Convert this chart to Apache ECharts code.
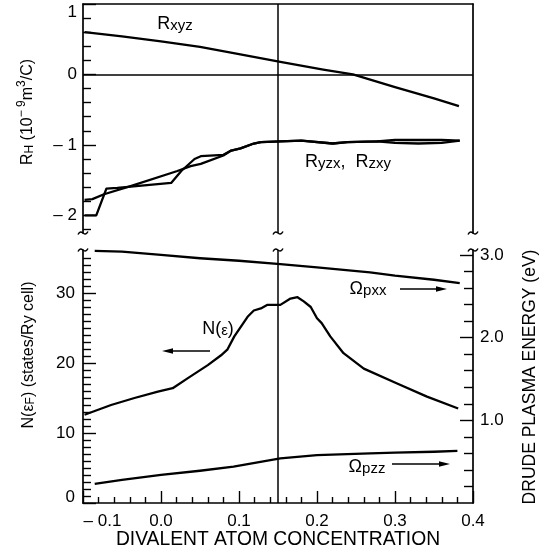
<!DOCTYPE html>
<html><head><meta charset="utf-8">
<script src="https://cdn.jsdelivr.net/npm/echarts@6/dist/echarts.min.js"></script>
<style>html,body{margin:0;padding:0;background:#fff}#c{width:553px;height:556px}</style>
</head><body><div id="c"></div>
<script>
// ---------- data ----------
const xTicks = [-0.1, 0, 0.1, 0.2, 0.3, 0.4];
const rhTicks = [-2, -1, 0, 1];
const rhMinorTicks = [-2.2, -1.8, -1.6, -1.4, -1.2, -0.8, -0.6, -0.4, -0.2, 0.2, 0.4, 0.6, 0.8];
const nTicks = [0, 10, 20, 30];
const nMinorTicks = [1,2,3,4,5,6,7,8,9,11,12,13,14,15,16,17,18,19,21,22,23,24,25,26,27,28,29,31,32,33,34,35];
const eTicks = [1, 2, 3];
const eMinorTicks = [0.2,0.4,0.6,0.8,1.2,1.4,1.6,1.8,2.2,2.4,2.6,2.8];

const rxyzX = [-0.098, -0.05, 0, 0.05, 0.1, 0.153, 0.208, 0.246, 0.3, 0.35, 0.382];
const rxyzY = [0.60, 0.54, 0.47, 0.39, 0.29, 0.18, 0.07, 0.0, -0.18, -0.34, -0.45];

const ryzxX = [-0.098, -0.088, -0.073, -0.038, 0.021, 0.038, 0.051, 0.08, 0.09, 0.102, 0.119, 0.128, 0.153, 0.18, 0.22, 0.239, 0.277, 0.30, 0.33, 0.36, 0.383];
const ryzxY = [-1.78, -1.77, -1.70, -1.58, -1.37, -1.30, -1.27, -1.15, -1.08, -1.05, -0.98, -0.96, -0.95, -0.94, -0.98, -0.96, -0.95, -0.93, -0.93, -0.93, -0.94];

const rzxyX = [-0.098, -0.083, -0.07, -0.056, 0.013, 0.026, 0.043, 0.051, 0.08, 0.09, 0.102, 0.119, 0.128, 0.153, 0.18, 0.22, 0.239, 0.277, 0.30, 0.33, 0.36, 0.383];
const rzxyY = [-2.0, -2.0, -1.62, -1.61, -1.54, -1.37, -1.20, -1.16, -1.14, -1.08, -1.05, -0.98, -0.96, -0.95, -0.94, -0.98, -0.96, -0.95, -0.97, -0.98, -0.97, -0.94];

const nX = [-0.098, -0.064, -0.034, -0.004, 0.015, 0.034, 0.06, 0.077, 0.085, 0.094, 0.111, 0.119, 0.128, 0.136, 0.153, 0.166, 0.175, 0.183, 0.192, 0.2, 0.206, 0.217, 0.234, 0.26, 0.302, 0.341, 0.381];
const nY = [12.6, 14.0, 15.0, 15.9, 16.4, 17.8, 19.7, 21.1, 21.9, 23.8, 26.6, 27.5, 27.8, 28.3, 28.3, 29.2, 29.4, 28.8, 28.0, 26.4, 25.7, 23.8, 21.4, 19.2, 17.1, 15.2, 13.5];

const opxxX = [-0.085, -0.05, 0, 0.05, 0.1, 0.153, 0.2, 0.268, 0.3, 0.35, 0.383];
const opxxY = [3.05, 3.04, 3.0, 2.96, 2.93, 2.89, 2.85, 2.79, 2.75, 2.70, 2.66];

const opzzX = [-0.085, -0.05, 0, 0.05, 0.093, 0.153, 0.2, 0.268, 0.3, 0.35, 0.38];
const opzzY = [0.23, 0.28, 0.34, 0.39, 0.44, 0.54, 0.58, 0.60, 0.61, 0.62, 0.63];

const xMin = -0.1, xMax = 0.4, rhMin = -2.25, rhMax = 1.0, nMin = 0, nMax = 36.14, eMin = 0, eMax = 3.06;
const markX = 0.15;
const breakXs = [-0.1, 0.15, 0.4];

// ---------- style ----------
const FONT = '"Liberation Sans", Arial, Helvetica, sans-serif';
const K = '#000';
const AW = 1.7;
const zip = (a, b) => a.map((v, i) => [v, b[i]]);
const lab = () => ({ fontSize: 17, fontFamily: FONT, color: K });
const hide = () => ({ show: false });
const hiddenLine = () => ({ show: false, onZero: false });
const minorTick = (vals, len) => ({ show: true, inside: true, length: len, customValues: vals, lineStyle: { color: K, width: 1.4 } });

function lineSeries(name, x, y, xi, yi, extra) {
  return Object.assign({
    name, type: 'line', data: zip(x, y), xAxisIndex: xi, yAxisIndex: yi,
    showSymbol: false, symbol: 'none', smooth: false,
    lineStyle: { color: K, width: 2.3, join: 'round' }, silent: true, animation: false
  }, extra || {});
}
const mlStyle = () => ({ symbol: 'none', silent: true, label: { show: false }, lineStyle: { color: K, width: 1.5, type: 'solid' }, animation: false });

const option = {
  backgroundColor: '#fff',
  animation: false,
  grid: [
    { left: 83, right: 80, top: 4, height: 229 },
    { left: 83, right: 80, top: 250, height: 253 }
  ],
  xAxis: [
    { type: 'value', gridIndex: 0, position: 'top', min: xMin, max: xMax,
      axisLine: { show: true, onZero: false, lineStyle: { color: K, width: AW } }, axisTick: hide(), axisLabel: hide(), splitLine: hide() },
    { type: 'value', gridIndex: 1, position: 'bottom', min: xMin, max: xMax, interval: 0.1,
      axisLine: { show: true, onZero: false, lineStyle: { color: K, width: AW } },
      axisTick: { show: true, inside: true, length: 12, lineStyle: { color: K, width: 1.4 } },
      minorTick: { show: true, splitNumber: 5, length: 6, lineStyle: { color: K, width: 1.4 } },
      axisLabel: Object.assign({ margin: 10, showMinLabel: true, showMaxLabel: true,
        formatter: v => Math.abs(v + 0.1) < 1e-9 ? '{m|\u2013 0.1}' : (Math.abs(v) < 1e-9 ? '0.0' : v.toFixed(1)),
        rich: { m: { fontSize: 17, fontFamily: FONT, color: K, padding: [0, 0, 0, 39] } } }, lab()),
      splitLine: hide(), minorSplitLine: hide() }
  ],
  yAxis: [
    { type: 'value', gridIndex: 0, position: 'left', min: rhMin, max: rhMax,
      axisLine: { show: true, onZero: false, lineStyle: { color: K, width: AW } },
      axisTick: { show: true, inside: true, length: 13, customValues: rhTicks, lineStyle: { color: K, width: 1.4 } },
      axisLabel: Object.assign({ margin: 6, customValues: rhTicks,
        formatter: v => v === 1 ? '{d|1}' : (v < 0 ? '\u2013 ' + (-v) : String(v)),
        rich: { d: { fontSize: 17, fontFamily: FONT, color: K, padding: [16, 0, 0, 0] } } }, lab()),
      splitLine: hide() },
    { type: 'value', gridIndex: 0, position: 'left', min: rhMin, max: rhMax,
      axisLine: hiddenLine(), axisTick: minorTick(rhMinorTicks, 8), axisLabel: hide(), splitLine: hide() },
    { type: 'value', gridIndex: 0, position: 'right', min: rhMin, max: rhMax,
      axisLine: { show: true, onZero: false, lineStyle: { color: K, width: AW } }, axisTick: hide(), axisLabel: hide(), splitLine: hide() },
    { type: 'value', gridIndex: 1, position: 'left', min: nMin, max: nMax,
      axisLine: { show: true, onZero: false, lineStyle: { color: K, width: AW } },
      axisTick: { show: true, inside: true, length: 13, customValues: nTicks, lineStyle: { color: K, width: 1.4 } },
      axisLabel: Object.assign({ margin: 8, customValues: nTicks,
        formatter: v => v === 0 ? '{d|0}' : String(v),
        rich: { d: { fontSize: 17, fontFamily: FONT, color: K, padding: [0, 0, 12, 0] } } }, lab()),
      splitLine: hide() },
    { type: 'value', gridIndex: 1, position: 'left', min: nMin, max: nMax,
      axisLine: hiddenLine(), axisTick: minorTick(nMinorTicks, 8), axisLabel: hide(), splitLine: hide() },
    { type: 'value', gridIndex: 1, position: 'right', min: eMin, max: eMax,
      axisLine: { show: true, onZero: false, lineStyle: { color: K, width: AW } },
      axisTick: { show: true, inside: true, length: 13, customValues: eTicks, lineStyle: { color: K, width: 1.4 } },
      axisLabel: Object.assign({ margin: 7, customValues: eTicks, formatter: v => v.toFixed(1) }, lab()),
      splitLine: hide() },
    { type: 'value', gridIndex: 1, position: 'right', min: eMin, max: eMax,
      axisLine: hiddenLine(), axisTick: minorTick(eMinorTicks, 9), axisLabel: hide(), splitLine: hide() }
  ],
  series: [
    lineSeries('Rxyz', rxyzX, rxyzY, 0, 0, { markLine: Object.assign({ data: [{ yAxis: 0 }, { xAxis: markX }] }, mlStyle()) }),
    lineSeries('Ryzx', ryzxX, ryzxY, 0, 0),
    lineSeries('Rzxy', rzxyX, rzxyY, 0, 0),
    lineSeries('N', nX, nY, 1, 3, { markLine: Object.assign({ data: [{ xAxis: markX }] }, mlStyle()) }),
    lineSeries('Opxx', opxxX, opxxY, 1, 5),
    lineSeries('Opzz', opzzX, opzzY, 1, 5)
  ]
};

const chart = echarts.init(document.getElementById('c'), null, { renderer: 'canvas' });
chart.setOption(option);

// ---------- decorations ----------
function breakMark(x, y) {
  return { type: 'bezierCurve', silent: true,
    shape: { x1: x - 5, y1: y + 1.5, cpx1: x - 1, cpy1: y - 6, cpx2: x + 1, cpy2: y + 6, x2: x + 5, y2: y - 1.5 },
    style: { stroke: K, lineWidth: 1.5, fill: null } };
}
function txt(x, y, text, rich, rot) {
  return { type: 'text', x, y, rotation: rot || 0, silent: true,
    style: { text, rich, align: 'center', verticalAlign: 'middle', fontSize: 17, fontFamily: FONT, fill: K } };
}
function arrow(x1, x2, y) {
  const dir = x2 > x1 ? 1 : -1;
  return [
    { type: 'line', silent: true, shape: { x1, y1: y, x2: x2 - dir * 6, y2: y }, style: { stroke: K, lineWidth: 1.5 } },
    { type: 'polygon', silent: true, shape: { points: [[x2, y], [x2 - dir * 11, y - 2.8], [x2 - dir * 11, y + 2.8]] }, style: { fill: K } }
  ];
}
const sub = {
  R: { fontSize: 18, fontFamily: FONT, fill: K, lineHeight: 20, verticalAlign: 'bottom' },
  s: { fontSize: 15, fontFamily: FONT, fill: K, lineHeight: 12, verticalAlign: 'bottom' },
  a: { fontSize: 16, fontFamily: FONT, fill: K, lineHeight: 20, verticalAlign: 'bottom' },
  b: { fontSize: 12, fontFamily: FONT, fill: K, lineHeight: 11, verticalAlign: 'bottom' },
  p: { fontSize: 12, fontFamily: FONT, fill: K, lineHeight: 11, verticalAlign: 'top' },
  t: { fontSize: 17.5, fontFamily: FONT, fill: K },
  u: { fontSize: 19.3, fontFamily: FONT, fill: K }
};
const g = [];
breakXs.forEach(x => {
  const a = chart.convertToPixel({ seriesIndex: 0 }, [x, rhMin]);
  const b = chart.convertToPixel({ seriesIndex: 3 }, [x, nMax]);
  g.push(breakMark(a[0], a[1]));
  g.push(breakMark(b[0], b[1]));
});
g.push(txt(175, 23, '{R|R}{s|xyz}', sub));
g.push(txt(348, 161, '{R|R}{s|yzx}{R|,  R}{s|zxy}', sub));
g.push(txt(218, 328, '{R|N(}{s|\u03b5}{R|)}', sub));
g.push(txt(368, 288, '{R|\u03a9}{s|pxx}', sub));
g.push(txt(367, 466, '{R|\u03a9}{s|pzz}', sub));
g.push(...arrow(210, 162, 351));
g.push(...arrow(400, 447, 289));
g.push(...arrow(392, 450, 464));
g.push(txt(278, 540, '{u|DIVALENT ATOM CONCENTRATION}', sub));
g.push(txt(530, 377, '{t|DRUDE PLASMA ENERGY (eV)}', sub, Math.PI / 2));
g.push(txt(26, 112, '{a|R}{b|H}{a| (10}{p|\u2212 9}{a|m}{p|3}{a|/C)}', sub, Math.PI / 2));
g.push(txt(27, 355, '{a|N(}{a|\u03b5}{b|F}{a|) (states/Ry cell)}', sub, Math.PI / 2));
chart.setOption({ graphic: g });
</script>
</body></html>
